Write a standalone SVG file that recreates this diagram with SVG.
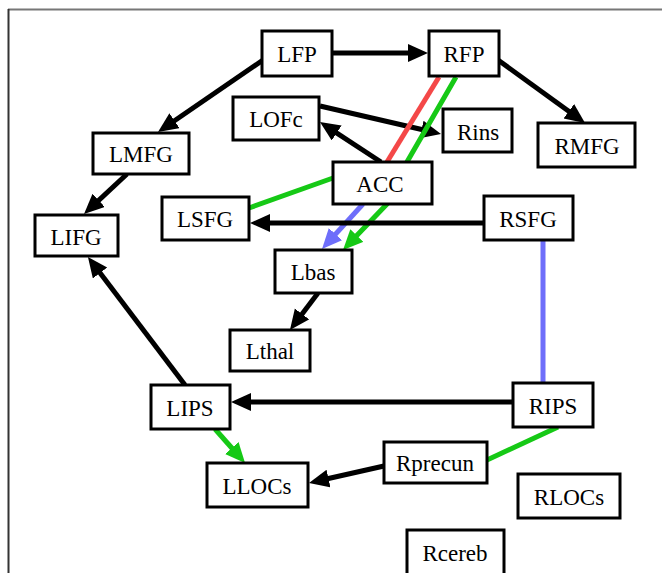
<svg xmlns="http://www.w3.org/2000/svg" width="662" height="573" viewBox="0 0 662 573">
<style>
.box{fill:#fff;stroke:#000;stroke-width:3}
.lbl{font-family:"Liberation Serif","Times New Roman",serif;font-size:23px;fill:#000;text-anchor:middle}
.k{stroke:#000;stroke-width:5;fill:none}
.g{stroke:#16c916;stroke-width:5;fill:none}
.b{stroke:#6e6efa;stroke-width:5;fill:none}
.r{stroke:#f44848;stroke-width:5;fill:none}
</style>
<defs>
<marker id="ak" markerUnits="userSpaceOnUse" markerWidth="22" markerHeight="20" refX="8" refY="9" orient="auto"><path d="M0,0 L20,9 L0,18 z" fill="#000"/></marker>
<marker id="ag" markerUnits="userSpaceOnUse" markerWidth="22" markerHeight="20" refX="8" refY="9" orient="auto"><path d="M0,0 L20,9 L0,18 z" fill="#16c916"/></marker>
<marker id="ab" markerUnits="userSpaceOnUse" markerWidth="22" markerHeight="20" refX="8" refY="9" orient="auto"><path d="M0,0 L20,9 L0,18 z" fill="#6e6efa"/></marker>
</defs>
<rect x="0" y="0" width="662" height="573" fill="#fff"/>
<line x1="8" y1="9.5" x2="662" y2="9.5" stroke="#777" stroke-width="2"/>
<line x1="8.5" y1="9" x2="8.5" y2="573" stroke="#333" stroke-width="2"/>
<g id="connectors">
<path class="k" d="M332,53 L416,53" marker-end="url(#ak)"/>
<path class="k" d="M263,60 L167.9,125.2" marker-end="url(#ak)"/>
<path class="k" d="M498,60 L575.3,116" marker-end="url(#ak)"/>
<path class="k" d="M127,174 L92.8,205.8" marker-end="url(#ak)"/>
<path class="k" d="M320,106 L429.3,131.3" marker-end="url(#ak)"/>
<path class="k" d="M381,162 L330,128.6" marker-end="url(#ak)"/>
<path class="r" d="M439,77 L387,162"/>
<path class="g" d="M456,77 L407,162 L387,204 L351.3,241.3" marker-end="url(#ag)"/>
<path class="b" d="M363,204 L330.1,240.1" marker-end="url(#ab)"/>
<path class="g" d="M333,178 L249,208"/>
<path class="k" d="M484,223 L262,223" marker-end="url(#ak)"/>
<path class="b" d="M543,240 L543,383"/>
<path class="k" d="M318,293 L297.2,320.4" marker-end="url(#ak)"/>
<path class="k" d="M185,385 L95.2,266.6" marker-end="url(#ak)"/>
<path class="k" d="M513,402 L243,402" marker-end="url(#ak)"/>
<path class="g" d="M215,429 L237.1,454" marker-end="url(#ag)"/>
<path class="k" d="M384,466 L320.7,480.3" marker-end="url(#ak)"/>
<path class="g" d="M558,427 L487,460"/>
</g>
<g id="LFP"><rect class="box" x="262" y="31" width="70" height="45"/><text class="lbl" x="297" y="62">LFP</text></g>
<g id="RFP"><rect class="box" x="429" y="31" width="70" height="45"/><text class="lbl" x="464" y="62">RFP</text></g>
<g id="LOFc"><rect class="box" x="233" y="97" width="86" height="43"/><text class="lbl" x="276" y="127">LOFc</text></g>
<g id="Rins"><rect class="box" x="443" y="109" width="69" height="43"/><text class="lbl" x="478" y="140">Rins</text></g>
<g id="RMFG"><rect class="box" x="538" y="123" width="97" height="44"/><text class="lbl" x="587" y="154">RMFG</text></g>
<g id="LMFG"><rect class="box" x="93" y="133" width="96" height="41"/><text class="lbl" x="141" y="162">LMFG</text></g>
<g id="ACC"><rect class="box" x="333" y="162" width="99" height="42"/><text class="lbl" x="380" y="192">ACC</text></g>
<g id="LSFG"><rect class="box" x="162" y="197" width="87" height="43"/><text class="lbl" x="205" y="227">LSFG</text></g>
<g id="RSFG"><rect class="box" x="484" y="196" width="89" height="44"/><text class="lbl" x="528" y="227">RSFG</text></g>
<g id="LIFG"><rect class="box" x="35" y="215" width="83" height="41"/><text class="lbl" x="76" y="245">LIFG</text></g>
<g id="Lbas"><rect class="box" x="275" y="250" width="77" height="43"/><text class="lbl" x="313" y="280">Lbas</text></g>
<g id="Lthal"><rect class="box" x="230" y="330" width="80" height="41"/><text class="lbl" x="270" y="359">Lthal</text></g>
<g id="LIPS"><rect class="box" x="151" y="385" width="79" height="44"/><text class="lbl" x="190" y="416">LIPS</text></g>
<g id="RIPS"><rect class="box" x="513" y="383" width="80" height="44"/><text class="lbl" x="553" y="414">RIPS</text></g>
<g id="Rprecun"><rect class="box" x="384" y="442" width="103" height="41"/><text class="lbl" x="435" y="471">Rprecun</text></g>
<g id="LLOCs"><rect class="box" x="207" y="463" width="101" height="44"/><text class="lbl" x="257" y="494">LLOCs</text></g>
<g id="RLOCs"><rect class="box" x="518" y="474" width="102" height="44"/><text class="lbl" x="569" y="505">RLOCs</text></g>
<g id="Rcereb"><rect class="box" x="407" y="530" width="97" height="46"/><text class="lbl" x="455" y="561">Rcereb</text></g>
</svg>
